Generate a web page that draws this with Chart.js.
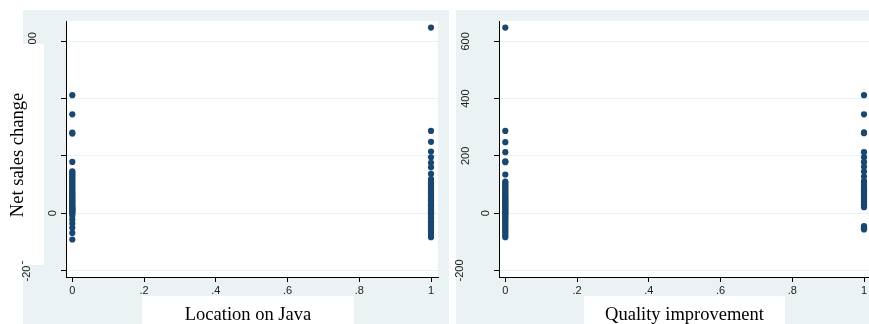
<!DOCTYPE html>
<html>
<head>
<meta charset="utf-8">
<script src="https://cdn.jsdelivr.net/npm/chart.js@4"></script>
<style>
body{margin:0;background:#fff;}
#wrap{position:relative;width:869px;height:324px;overflow:hidden;}
canvas{position:absolute;top:0;}
</style>
</head>
<body>
<div id="wrap">
<canvas id="javaChart" width="449" height="324" style="left:0px"></canvas>
<canvas id="qualityChart" width="449" height="324" style="left:433px"></canvas>
</div>
<script>
"use strict"
//axis ticks
const xTicks = [0, 0.2, 0.4, 0.6, 0.8, 1];
const xTickLabels = ["0", ".2", ".4", ".6", ".8", "1"];
const yTicks = [-200, 0, 200, 400, 600];
const yTickLabels = ["-200", "0", "200", "400", "600"];
const groups = [0, 1];//dummy values on the x axis

//net sales change, split by location on Java
const javaNo = [412, 345, 281, 278, 179, 146, 141, 136, 131, 126, 121, 116, 110, 105, 100, 95, 90, 85, 80, 75, 70, 66, 61, 57, 52, 48, 44, 40, 36, 32, 28, 24, 20, 17, 14, 11, 8, 5, 2, -2, -9, -22, -36, -51, -69, -92];
const javaYes = [648, 287, 249, 215, 195, 176, 160, 137, 119, 112, 108, 103, 98, 93, 88, 83, 78, 73, 68, 63, 58, 53, 48, 44, 40, 35, 31, 27, 23, 19, 15, 11, 7, 3, -1, -5, -9, -14, -19, -24, -29, -34, -40, -46, -52, -58, -64, -70, -77, -84];

//net sales change, split by quality improvement
const qualityNo = [648, 287, 248, 213, 181, 178, 135, 110, 106, 101, 96, 91, 86, 81, 76, 71, 66, 61, 56, 52, 47, 43, 39, 35, 31, 27, 23, 19, 15, 11, 7, 3, -1, -5, -10, -15, -20, -25, -30, -36, -42, -48, -54, -60, -66, -72, -78, -84];
const qualityYes = [412, 345, 282, 279, 213, 195, 178, 162, 145, 128, 112, 105, 99, 93, 87, 81, 76, 71, 66, 61, 56, 51, 46, 41, 36, 31, 26, 21, -45, -49, -53, -57];

const navy = "#1A476F";
const panelBg = "#EAF2F3";
const tickFont = '11px "Liberation Sans"';
const titleFont = '18.5px "Liberation Serif"';

function toPoints(vals, x) {
  return vals.map(v => ({x: x, y: v}));
}

//stata look: grey panel, white plot region, rotated y labels, boxed titles
function panelPlugin(o) {
  return {
    id: "panel",
    beforeDraw(chart) {
      const ctx = chart.ctx, a = chart.chartArea;
      ctx.save();
      ctx.fillStyle = panelBg;
      ctx.fillRect(23, 10, 426, 314);
      ctx.fillStyle = "#fff";
      ctx.fillRect(a.left, a.top, a.right - a.left, a.bottom - a.top);
      ctx.restore();
    },
    afterDraw(chart) {
      const ctx = chart.ctx, a = chart.chartArea, ys = chart.scales.y;
      ctx.save();
      //y tick labels, standing upright
      ctx.font = tickFont;
      ctx.fillStyle = "#222";
      ctx.textAlign = "center";
      ctx.textBaseline = "middle";
      yTicks.forEach((v, i) => {
        const lab = yTickLabels[i];
        const w = ctx.measureText(lab).width;
        ctx.save();
        ctx.translate(a.left - 3 - 1.65 * w, ys.getPixelForValue(v));
        ctx.rotate(-Math.PI / 2);
        ctx.fillText(lab, 0, 0);
        ctx.restore();
      });
      ctx.fillStyle = "#fff";
      if (o.yTitle) {
        ctx.fillRect(23, 44, 21, 221);
      }
      ctx.fillRect(o.box[0], 296, o.box[1] - o.box[0], 28);
      ctx.fillStyle = "#000";
      ctx.font = titleFont;
      ctx.textAlign = "center";
      ctx.textBaseline = "alphabetic";
      ctx.fillText(o.xTitle, (o.box[0] + o.box[1]) / 2, 320);
      if (o.yTitle) {
        ctx.translate(23, 155);
        ctx.rotate(-Math.PI / 2);
        ctx.fillText(o.yTitle, 0, 0);
      }
      ctx.restore();
    }
  };
}

function makePanel(id, noVals, yesVals, o) {
  return new Chart(document.getElementById(id), {
    type: "scatter",
    data: {
      datasets: [
        {data: toPoints(noVals, groups[0]), backgroundColor: navy, pointRadius: 3.1, borderWidth: 0},
        {data: toPoints(yesVals, groups[1]), backgroundColor: navy, pointRadius: 3.1, borderWidth: 0}
      ]
    },
    options: {
      responsive: false,
      animation: false,
      layout: {padding: {top: 21, right: 11, left: 0, bottom: 0}},
      plugins: {legend: {display: false}, tooltip: {enabled: false}},
      scales: {
        x: {
          type: "linear",
          min: -0.0176,
          max: 1.0195,
          afterBuildTicks: s => { s.ticks = xTicks.map(v => ({value: v})); },
          afterFit: s => { s.height = 47; },
          grid: {drawOnChartArea: false, tickLength: 5, tickColor: "#000"},
          border: {color: "#000", width: 1},
          ticks: {
            autoSkip: false,
            maxRotation: 0,
            padding: 2,
            color: "#222",
            font: {family: "Liberation Sans", size: 11},
            callback: (v, i) => xTickLabels[i]
          }
        },
        y: {
          min: -223,
          max: 671,
          afterBuildTicks: s => { s.ticks = yTicks.map(v => ({value: v})); },
          afterFit: s => { s.width = 66; },
          grid: {color: panelBg, tickLength: 5, tickColor: "#000"},
          border: {color: "#000", width: 1},
          ticks: {display: false}
        }
      }
    },
    plugins: [panelPlugin(o)]
  });
}

makePanel("javaChart", javaNo, javaYes, {xTitle: "Location on Java", yTitle: "Net sales change", box: [142, 354]});
makePanel("qualityChart", qualityNo, qualityYes, {xTitle: "Quality improvement", box: [151, 352]});
</script>
</body>
</html>
